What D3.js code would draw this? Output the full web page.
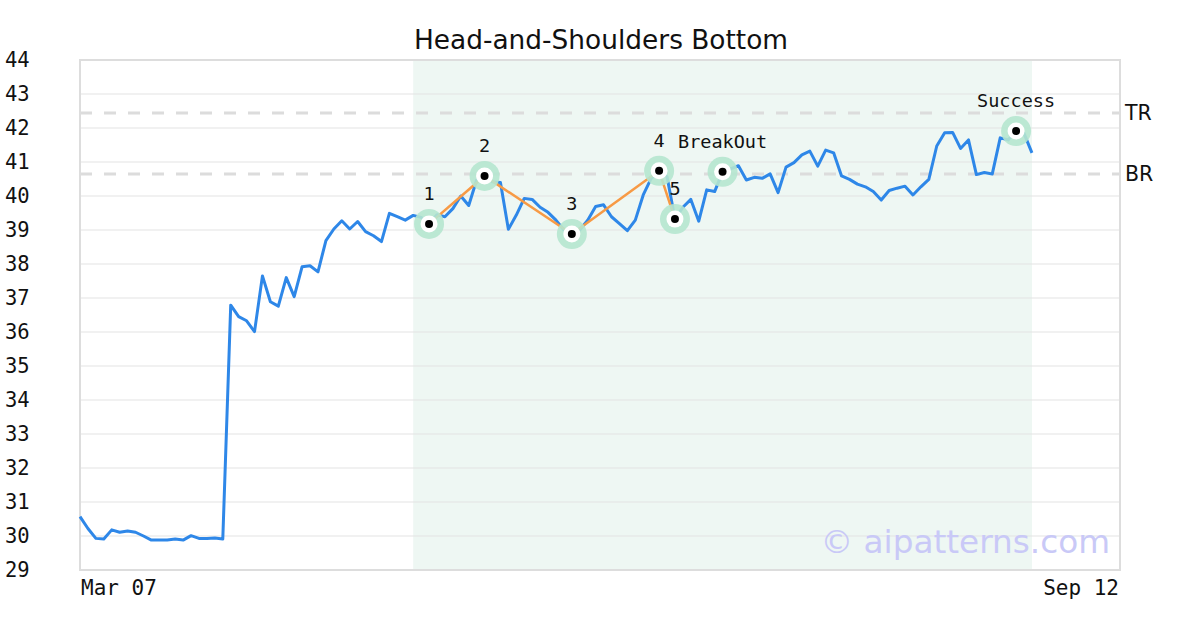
<!DOCTYPE html>
<html><head><meta charset="utf-8">
<script src="https://cdn.jsdelivr.net/npm/d3@7/dist/d3.min.js"></script>
<style>body{margin:0;background:#fff}svg{display:block}</style>
</head><body>
<svg id="c" width="1200" height="630"></svg>
<script>
const title = "Head-and-Shoulders Bottom";
const xLabels = ["Mar 07", "Sep 12"];
const yTicks = [29,30,31,32,33,34,35,36,37,38,39,40,41,42,43,44];
const prices = [
 30.57,30.22,29.93,29.91,30.18,30.11,30.15,30.11,30.0,29.88,
 29.88,29.88,29.91,29.88,30.01,29.93,29.93,29.94,29.91,36.79,
 36.45,36.33,36.01,37.65,36.89,36.76,37.60,37.04,37.92,37.95,
 37.77,38.69,39.03,39.27,39.03,39.25,38.95,38.83,38.66,39.49,
 39.39,39.29,39.43,39.37,39.18,39.45,39.39,39.63,40.0,39.72,
 40.47,40.59,40.42,40.4,39.02,39.44,39.93,39.9,39.67,39.52,
 39.29,39.0,38.88,39.0,39.29,39.69,39.74,39.39,39.19,38.98,
 39.29,40.03,40.52,40.74,40.57,39.32,39.67,39.9,39.26,40.18,
 40.13,40.71,40.8,40.89,40.47,40.55,40.52,40.65,40.1,40.85,
 40.98,41.21,41.32,40.88,41.35,41.27,40.59,40.49,40.35,40.27,
 40.13,39.88,40.16,40.23,40.29,40.03,40.27,40.49,41.47,41.86,
 41.87,41.4,41.65,40.63,40.69,40.65,41.71,41.65,41.91,41.84,
 41.27];
const patternIdx = [44, 51, 62, 73, 75];
const patternLabels = ["1","2","3","4","5"];
const breakoutIdx = 81, breakoutLabel = "BreakOut";
const successIdx = 118, successLabel = "Success";
const shadeRange = [42, 120];
const levels = [{name:"TR", value:42.44},{name:"BR", value:40.65}];
const axisEndIdx = 131.1;

const svg = d3.select("#c");
const L=80, R=1120, T=60, B=570;
const x = d3.scaleLinear().domain([0, axisEndIdx]).range([L, R]);
const y = d3.scaleLinear().domain([29, 44]).range([B, T]);

svg.append("text").attr("x",601).attr("y",49).attr("text-anchor","middle")
  .attr("font-family","DejaVu Sans").attr("font-size",26.4).attr("fill","#111").text(title);

// shade
svg.append("rect").attr("x",x(shadeRange[0])).attr("y",T)
  .attr("width",x(shadeRange[1])-x(shadeRange[0])).attr("height",B-T).attr("fill","#eef7f3");

// gridlines
svg.append("g").selectAll("line").data(yTicks.slice(1,-1)).join("line")
  .attr("x1",L).attr("x2",R).attr("y1",d=>y(d)).attr("y2",d=>y(d))
  .attr("stroke","#e3e3e3").attr("stroke-width",1);

// y labels
svg.append("g").selectAll("text").data(yTicks).join("text")
  .attr("x",5).attr("y",d=>y(d)).attr("dy","0.36em")
  .attr("font-family","DejaVu Sans Mono").attr("font-size",20.5).attr("fill","#111").text(d=>d);

// level lines
svg.append("g").selectAll("line").data(levels).join("line")
  .attr("x1",L).attr("x2",R).attr("y1",d=>y(d.value)).attr("y2",d=>y(d.value))
  .attr("stroke","#dcdcdc").attr("stroke-width",3).attr("stroke-dasharray","12,12");
svg.append("g").selectAll("text").data(levels).join("text")
  .attr("x",1125).attr("y",d=>y(d.value)).attr("dy","0.36em")
  .attr("font-family","DejaVu Sans").attr("font-size",20.5).attr("fill","#111").text(d=>d.name);

// frame
svg.append("rect").attr("x",L).attr("y",T).attr("width",R-L).attr("height",B-T)
  .attr("fill","none").attr("stroke","#dddddd").attr("stroke-width",2);

// x labels
svg.append("text").attr("x",x(0)+1).attr("y",595).attr("font-family","DejaVu Sans Mono")
  .attr("font-size",21).attr("fill","#111").text(xLabels[0]);
svg.append("text").attr("x",x(axisEndIdx)-1).attr("y",595).attr("text-anchor","end").attr("font-family","DejaVu Sans Mono")
  .attr("font-size",21).attr("fill","#111").text(xLabels[1]);

// watermark
svg.append("text").attr("x",1110).attr("y",553).attr("text-anchor","end")
  .attr("font-family","DejaVu Sans").attr("font-size",32.7).attr("fill","#c9c9f7").text("© aipatterns.com");

// price line
svg.append("path").datum(prices).attr("fill","none").attr("stroke","#2e87e8").attr("stroke-width",3)
  .attr("stroke-linejoin","round")
  .attr("d", d3.line().x((d,i)=>x(i)).y(d=>y(d)));

// pattern line
svg.append("path").datum(patternIdx).attr("fill","none").attr("stroke","#f79a45").attr("stroke-width",2.5)
  .attr("d", d3.line().x(i=>x(i)).y(i=>y(prices[i])));

const marks = patternIdx.map((i,k)=>({i, label:patternLabels[k]}))
  .concat([{i:breakoutIdx,label:breakoutLabel},{i:successIdx,label:successLabel}]);
const g = svg.append("g");
g.selectAll(".halo").data(marks).join("circle").attr("cx",d=>x(d.i)).attr("cy",d=>y(prices[d.i]))
  .attr("r",15).attr("fill","#b5e6cf").attr("opacity",0.9);
g.selectAll(".wh").data(marks).join("circle").attr("cx",d=>x(d.i)).attr("cy",d=>y(prices[d.i]))
  .attr("r",8.5).attr("fill","#fff");
g.selectAll(".dot").data(marks).join("circle").attr("cx",d=>x(d.i)).attr("cy",d=>y(prices[d.i]))
  .attr("r",4).attr("fill","#000");
g.selectAll("text").data(marks).join("text").attr("x",d=>x(d.i)).attr("y",d=>y(prices[d.i])-24)
  .attr("text-anchor","middle").attr("font-family","DejaVu Sans Mono").attr("font-size",18.5).attr("fill","#111")
  .text(d=>d.label);
</script>
</body></html>
